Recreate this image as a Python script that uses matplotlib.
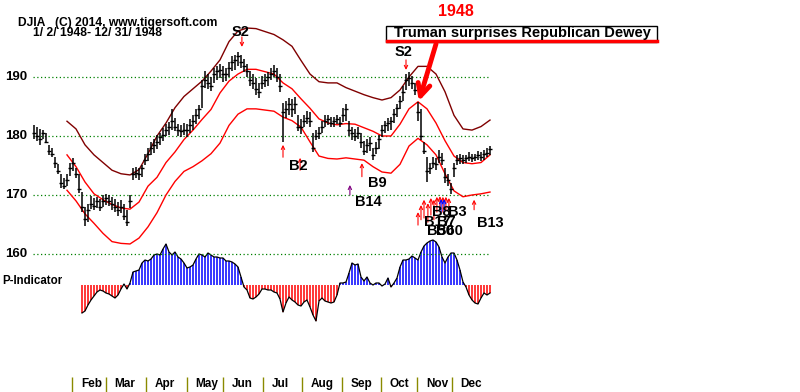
import numpy as np
import matplotlib
matplotlib.use("Agg")
import matplotlib.pyplot as plt
from matplotlib.patches import Rectangle
from matplotlib.lines import Line2D

plt.rcParams['font.family'] = ['Liberation Sans', 'DejaVu Sans']
plt.rcParams['font.weight'] = 'bold'

# DJIA 1948, one bar every second session (bar index 0 = Jan 2)
highs = [181.8, 181.5, 181.2, 181.0, 180.5, 178.5, 178.0, 176.5, 175.2, 173.5,
         172.8, 173.5, 175.5, 176.3, 174.5, 173.5, 170.5, 168.0, 168.5, 169.8,
         169.5, 169.6, 169.4, 170.0, 170.2, 170.0, 169.6, 169.3, 168.8, 169.2,
         168.5, 167.5, 170.0, 174.5, 174.8, 174.5, 175.0, 177.0, 178.0, 179.0,
         179.5, 180.2, 180.5, 181.3, 182.0, 182.3, 184.5, 183.0, 182.0, 181.8,
         182.2, 182.0, 182.8, 183.5, 184.5, 185.2, 189.5, 191.0, 190.5, 190.0,
         191.5, 191.8, 192.2, 191.8, 191.5, 192.5, 193.5, 193.8, 194.3, 193.8,
         193.0, 192.2, 191.0, 190.5, 189.8, 189.0, 190.2, 190.5, 190.8, 191.5,
         192.0, 191.5, 190.5, 185.6, 186.0, 186.5, 186.2, 186.6, 183.5, 182.8,
         183.5, 184.3, 184.0, 180.5, 181.0, 181.5, 182.5, 183.5, 183.5, 183.2,
         183.3, 183.6, 183.2, 184.8, 185.5, 182.5, 181.5, 181.2, 181.5, 180.5,
         179.2, 179.5, 179.8, 178.0, 179.0, 180.2, 181.8, 182.5, 183.0, 183.3,
         184.5, 185.5, 186.8, 188.5, 190.5, 190.8, 190.2, 189.0, 185.8, 184.5,
         179.0, 176.5, 175.5, 176.5, 176.3, 177.6, 177.2, 174.5, 173.5, 172.0,
         175.4, 176.8, 177.0, 176.8, 176.7, 177.3, 177.0, 176.9, 177.5, 177.3,
         177.6, 178.0, 178.3]
lows = [179.5, 179.2, 178.5, 179.5, 178.8, 176.8, 176.5, 174.5, 173.5, 171.2,
        171.0, 171.5, 173.3, 174.0, 172.8, 170.3, 167.2, 164.8, 165.5, 167.6,
        167.5, 167.8, 167.3, 168.0, 168.3, 168.2, 167.5, 167.2, 166.5, 167.0,
        165.8, 164.8, 167.8, 172.5, 172.8, 172.6, 173.0, 175.0, 175.8, 176.8,
        177.2, 177.8, 178.5, 179.2, 180.0, 180.2, 181.0, 180.8, 180.0, 179.8,
        180.2, 179.8, 180.5, 181.0, 182.0, 182.8, 184.8, 188.2, 188.0, 187.6,
        189.0, 189.5, 189.8, 189.2, 189.3, 190.0, 191.0, 191.2, 191.8, 191.5,
        190.8, 190.0, 188.5, 188.0, 187.0, 186.5, 188.0, 188.3, 188.5, 189.5,
        190.0, 189.2, 187.5, 179.0, 183.0, 183.5, 183.2, 183.8, 180.8, 180.3,
        181.5, 182.0, 181.5, 177.3, 179.3, 179.5, 180.5, 181.5, 181.8, 181.6,
        181.6, 182.0, 181.5, 182.3, 182.5, 180.0, 179.3, 179.2, 179.5, 178.0,
        176.8, 177.2, 177.5, 176.0, 177.0, 177.8, 179.8, 180.5, 180.8, 181.0,
        182.2, 183.2, 184.5, 186.0, 187.8, 188.5, 188.0, 187.0, 182.5, 179.3,
        177.0, 172.2, 173.5, 174.5, 174.2, 175.4, 175.0, 172.0, 171.5, 170.2,
        173.0, 175.0, 175.3, 175.2, 175.5, 175.8, 175.6, 175.7, 176.0, 175.8,
        176.0, 176.4, 176.8]
closes = [180.5, 180.0, 179.5, 180.5, 179.0, 177.5, 177.0, 175.5, 174.0, 172.0,
          171.5, 172.5, 174.5, 175.5, 173.5, 171.0, 168.0, 166.0, 167.5, 168.5,
          168.2, 169.0, 168.0, 169.0, 169.5, 169.0, 168.5, 168.0, 167.5, 168.0,
          166.5, 165.5, 169.0, 173.5, 173.8, 173.5, 174.5, 176.0, 177.0, 178.0,
          178.5, 179.0, 179.8, 180.2, 181.0, 181.5, 182.5, 181.5, 181.0, 180.8,
          181.0, 181.0, 181.8, 182.5, 183.5, 184.5, 188.5, 189.5, 189.0, 188.5,
          190.5, 191.0, 191.2, 190.5, 190.5, 191.5, 192.5, 192.8, 193.5, 192.5,
          191.8, 191.0, 189.5, 189.0, 188.0, 187.5, 189.0, 189.5, 190.0, 190.5,
          191.0, 190.0, 188.5, 184.0, 184.5, 185.5, 184.5, 185.5, 181.5, 181.5,
          182.5, 183.0, 182.5, 178.0, 180.0, 180.5, 181.5, 182.5, 182.8, 182.2,
          182.5, 182.8, 182.2, 183.5, 184.5, 181.0, 180.5, 180.0, 180.5, 179.0,
          177.5, 178.5, 178.8, 176.8, 178.0, 179.5, 181.0, 181.8, 182.2, 182.5,
          183.8, 184.8, 186.0, 187.5, 189.5, 189.8, 189.0, 187.8, 184.0, 180.0,
          177.5, 174.0, 174.5, 175.5, 175.2, 176.5, 176.0, 173.0, 172.5, 171.0,
          174.5, 176.0, 176.2, 176.0, 176.2, 176.5, 176.3, 176.4, 176.8, 176.5,
          177.0, 177.2, 177.8]

# bands, sampled every third bar starting at bar 11
band_start = 11
upper_band = [182.5, 181.2, 178.5, 176.8, 175.5, 174.2, 173.6, 173.4, 174.3, 177.0,
              180.0, 182.2, 184.8, 186.7, 188.0, 189.3, 191.0, 192.9, 196.0, 197.8,
              198.3, 198.2, 197.7, 197.2, 196.3, 195.2, 192.8, 190.5, 189.2, 189.0,
              189.0, 188.2, 187.6, 187.0, 186.5, 186.1, 186.5, 187.8, 190.0, 191.8,
              191.8, 190.5, 187.5, 183.5, 181.2, 181.0, 181.6, 182.7]
middle_band = [176.8, 174.8, 172.2, 170.2, 169.2, 168.4, 167.8, 167.6, 168.8, 171.5,
               173.0, 175.5, 177.3, 179.4, 181.0, 182.8, 184.5, 187.3, 189.3, 190.5,
               191.3, 191.3, 190.9, 190.5, 189.0, 188.0, 186.3, 184.7, 182.9, 182.2,
               181.9, 182.1, 182.0, 181.4, 180.8, 180.0, 180.0, 182.0, 184.6, 185.8,
               184.6, 182.2, 179.2, 176.6, 175.5, 175.3, 175.5, 176.8]
lower_band = [170.8, 169.0, 166.8, 165.2, 163.5, 162.1, 161.8, 161.7, 162.7, 164.6,
              167.0, 170.0, 172.3, 174.0, 174.8, 175.8, 177.0, 178.8, 181.8, 183.7,
              184.6, 184.6, 184.4, 184.2, 183.2, 182.6, 181.5, 179.0, 176.6, 176.2,
              176.1, 176.3, 176.1, 175.9, 174.8, 173.9, 173.7, 175.2, 178.3, 179.6,
              178.5, 176.8, 173.6, 170.7, 169.7, 170.0, 170.2, 170.5]

# P-Indicator, from bar 16 to the end
pind_start = 16
pind = [-28, -26, -20, -15, -11, -7, -5, -6, -8, -9, -11, -13, -10, -4, 1, -4, 2,
        13, 14, 15, 22, 25, 24, 26, 30, 31, 30, 36, 41, 33, 30, 33, 28, 26, 22, 17,
        18, 20, 26, 31, 30, 28, 32, 30, 28, 28, 27, 27, 24, 24, 23, 21, 18, 8, -2,
        -5, -13, -14, -12, -9, -4, -4, -5, -5, -7, -8, -14, -27, -18, -12, -15, -17,
        -20, -21, -17, -15, -22, -30, -36, -16, -13, -16, -17, -18, -17, -10, 2, 2,
        3, 12, 22, 20, 21, 8, 4, 8, 2, 0, 2, 2, -1, 1, 7, -2, 2, 7, 18, 25, 25, 26,
        29, 27, 25, 33, 39, 42, 44, 45, 43, 38, 28, 22, 28, 32, 32, 25, 15, 3, -2,
        -10, -15, -18, -19, -13, -8, -10, -8]

grid_levels = [160, 170, 180, 190]
months = ['Feb', 'Mar', 'Apr', 'May', 'Jun', 'Jul', 'Aug', 'Sep', 'Oct', 'Nov', 'Dec']
month_start = [12.8, 23.9, 37.2, 50.9, 62.9, 76.2, 89.2, 102.6, 115.6, 127.6, 139.2]

# signals: bar, arrow tip, arrow tail, colour
sig_bar = [69.3, 124.0, 83.0, 88.7, 109.3, 105.3, 146.7,
           128.0, 129.0, 130.0, 131.3, 132.3, 133.3, 134.3, 135.3, 136.3, 137.3, 138.3,
           135.7, 136.7]
sig_tip = [195.1, 191.2, 178.5, 176.3, 175.4, 171.7, 169.2,
           167.1, 168.3, 169.2, 168.6, 169.5, 169.2, 169.7, 169.8, 169.7, 169.7, 169.5,
           169.3, 169.3]
sig_tail = [196.8, 192.9, 176.4, 174.2, 173.1, 170.0, 167.5,
            164.9, 165.8, 166.1, 165.4, 166.6, 165.8, 167.1, 167.5, 167.1, 167.5, 167.1,
            167.1, 167.1]
sig_color = ['red', 'red', 'red', 'red', 'red', '#800080', 'red',
             'red', 'red', 'red', 'red', 'red', 'red', 'red', 'red', 'red', 'red', 'red',
             'blue', 'blue']
lab_text = ['S2', 'S2', 'B2', 'B9', 'B14', 'B13', 'B8', 'B3', 'B17', 'B7', 'B50', 'B60']
lab_bar = [69.0, 123.3, 88.0, 114.3, 111.3, 152.0, 135.7, 141.0, 134.3, 137.3, 135.5, 138.5]
lab_price = [197.7, 194.3, 174.9, 172.0, 168.8, 165.3, 167.1, 167.1, 165.4, 165.4, 163.9, 163.9]

fig = plt.figure(figsize=(8, 3.92), dpi=100)
ax = fig.add_axes([0, 0, 1, 1])
ax.set_xlim(-34 / 3, 766 / 3)
ax.set_ylim(136.61, 203.05)
ax.axis('off')

ax2 = fig.add_axes([0, 0, 1, 1], zorder=0)
ax2.set_xlim(ax.get_xlim())
ax2.set_ylim(-107, 285)
ax2.axis('off')
ax.set_zorder(1)
ax.patch.set_visible(False)

# grid + labels
ax.hlines(grid_levels, -0.3, 152, colors='#008000', linestyles=(0, (1, 2)), lw=0.9)
for lv in grid_levels:
    ax.text(-5.8, lv, str(lv), ha='center', va='center', fontsize=9.5)

# P-Indicator
px = np.arange(pind_start, pind_start + len(pind))
pv = np.array(pind)
ax2.vlines(px, 0, pv, colors=np.where(pv >= 0, '#0000ff', '#ff0000'), lw=1.1)
ax2.plot(px, pv, color='black', lw=0.9)
fig.text(2 / 800, 1 - 281 / 392, 'P-Indicator', ha='left', va='center', fontsize=8.3)

# bands
bx = np.arange(len(upper_band)) * 3 + band_start
ax.plot(bx, upper_band, color='#800000', lw=1)
ax.plot(bx, middle_band, color='#ff0000', lw=1)
ax.plot(bx, lower_band, color='#ff0000', lw=1)

# price bars
bars = np.arange(len(highs))
ax.vlines(bars, lows, highs, colors='black', lw=1.1)
ax.plot(bars, closes, ls='none', marker='_', ms=3.5, mew=1, color='black')

# signals
for b, t, s, c in zip(sig_bar, sig_tip, sig_tail, sig_color):
    ax.annotate('', xy=(b, t), xytext=(b, s),
                arrowprops=dict(arrowstyle='->', color=c, lw=0.8,
                                shrinkA=0, shrinkB=0, mutation_scale=6))
for txt, b, p in zip(lab_text, lab_bar, lab_price):
    ax.text(b, p, txt, ha='center', va='center', fontsize=10.5, color='black')

# month axis
ax.vlines(month_start, 136.61, 139.2, colors='#8a8a00', lw=1)
for m, s in zip(months, month_start):
    ax.text(s + 3, 138.0, m, ha='left', va='center', fontsize=8.5)

# titles
fig.text(18 / 800, 1 - 23 / 392, 'DJIA   (C) 2014, www.tigersoft.com',
         ha='left', va='center', fontsize=8.7)
fig.text(33 / 800, 1 - 33 / 392, '1/ 2/ 1948- 12/ 31/ 1948',
         ha='left', va='center', fontsize=8.7)
fig.text(456 / 800, 1 - 12 / 392, '1948', color='red', ha='center', va='center',
         fontsize=11.5)

# headline box
fig.add_artist(Rectangle((386 / 800, 1 - 42 / 392), 271 / 800, 16 / 392,
                         transform=fig.transFigure, fill=True, fc='white',
                         ec='black', lw=1))
fig.add_artist(Line2D([387 / 800, 657 / 800], [1 - 41 / 392, 1 - 41 / 392],
                      transform=fig.transFigure, color='red', lw=2.5))
fig.text(522 / 800, 1 - 33.5 / 392, 'Truman surprises Republican Dewey',
         ha='center', va='center', fontsize=10.5)

ax.annotate('', xy=(128.3, 185.9), xytext=(134.0, 195.6),
            arrowprops=dict(arrowstyle='->', color='red', lw=3.5,
                            shrinkA=0, shrinkB=0, mutation_scale=22))

fig.savefig('out.png', dpi=100)
